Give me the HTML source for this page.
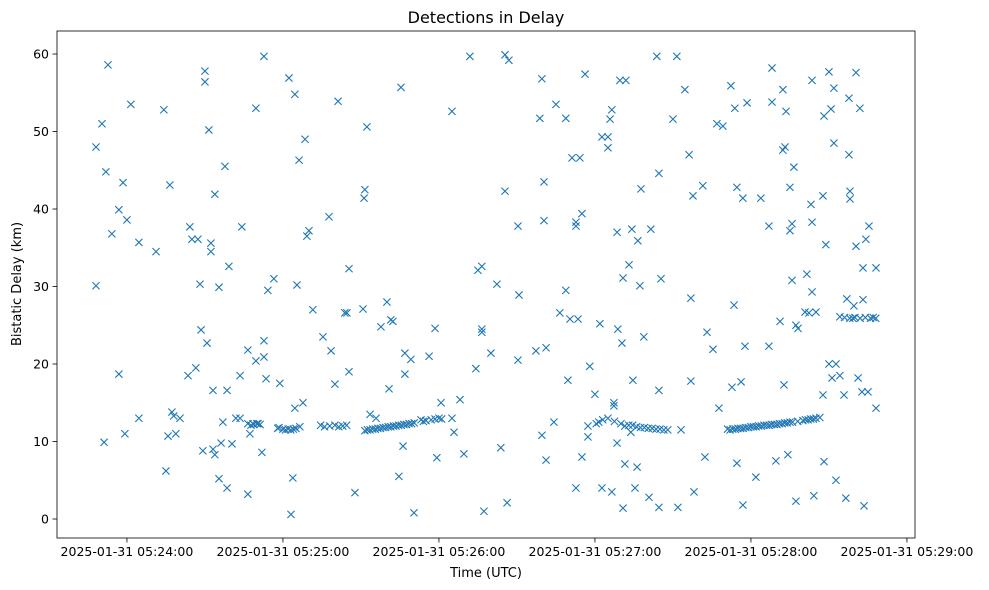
<!DOCTYPE html>
<html><head><meta charset="utf-8"><style>
html,body{margin:0;padding:0;background:#fff;}
svg{display:block;font-family:"DejaVu Sans","Liberation Sans",sans-serif;}
</style></head><body>
<svg id="chart" width="989" height="590" viewBox="0 0 989 590">
<rect width="989" height="590" fill="#fff"/>
<text x="486" y="23" text-anchor="middle" font-size="16" fill="#000">Detections in Delay</text>
<text x="486" y="577" text-anchor="middle" font-size="13" fill="#000">Time (UTC)</text>
<text transform="translate(21,284) rotate(-90)" text-anchor="middle" font-size="13" fill="#000">Bistatic Delay (km)</text>
<g id="marks"></g>
<g id="axes"></g>
</svg>
<script>
// seconds after 05:24:00
const times = [-11.9,-11.9,-9.6,-8.8,-8.1,-7.3,-5.8,-3.1,-3.1,-1.5,-0.8,0,1.5,4.6,4.6,11.2,14.2,15,15.8,16.5,17.3,18,18.8,20.4,23.5,24.2,25,26.5,27.3,28.1,28.5,29.2,30,30,30.8,31.5,32.3,32.3,33.1,33.1,33.8,33.8,35.4,35.4,36.2,36.9,37.7,38.5,38.5,39.2,40.4,41.9,43.5,43.5,44.2,46.5,46.5,47.3,48.5,49.6,49.6,50.4,51.9,52.7,52.7,52.7,53.5,54.2,56.5,58,58.8,62.3,63.1,63.8,64.6,64.6,65.4,66.2,67.7,68.5,69.2,70,71.5,75.4,77.7,78.5,80,81.2,83.8,84.6,85.4,85.4,87.7,90.8,91.2,91.5,92.3,93.5,95.8,97.7,100,100.8,101.5,102.3,104.6,105.4,106.2,106.9,106.9,109.2,110.4,113.1,116.2,118.5,119.2,120.8,125,125,125.8,128.1,129.6,131.9,134.2,135,136.5,136.5,136.5,137.3,140,142.3,143.8,145.4,146.2,146.9,145.4,150.4,150.8,150.4,157.3,158.8,159.6,159.6,160.4,160.4,161.2,161.2,164.2,165,166.5,168.8,168.8,169.6,170.4,171.2,172.7,173.5,174.2,172.7,172.7,175,175,176.2,177.3,177.3,178,180,181.9,182.7,182.7,185,185,185.8,186.5,186.5,187.3,187.3,188.5,188.5,188.8,189.6,190.4,190.8,190.8,191.5,191.9,193.1,193.8,194.2,194.6,195.4,196.2,196.5,197.3,197.7,198.8,200.8,201.5,203.8,204.6,204.6,204.6,205.4,210,211.5,211.9,213.1,214.6,216.2,216.9,216.9,217.7,218.1,221.5,222.3,223.1,225.4,227.7,226.9,229.2,232.3,232.7,233.5,233.8,234.6,234.6,236.2,236.9,236.9,237.7,238.5,241.9,243.8,246.9,246.9,248.1,248.1,249.6,251.2,252.3,252.3,252.7,253.1,253.5,254.2,255,255,255.8,255.8,256.5,257.3,258.1,257.3,260.8,261.5,262.3,263.1,263.5,263.5,263.5,264.2,265,267.7,267.7,268.1,268.1,268.8,270,270,270.8,271.2,271.9,271.9,272.7,272.7,274.2,274.2,275.8,276.5,276.9,277.7,277.7,278.1,278.1,279.2,279.6,280.4,280.4,281.2,281.9,282.7,283.1,283.1,283.5,284.2,285,285.4,288.1,288.1,
46.5,47.7,48.8,50,51.2,58.5,60,61,62,63,64,65,66.5,74.5,76,78,80,81.5,83,84.5,91.5,92.5,93.5,94.5,95.5,96.5,97.5,98.5,99.5,100.5,101.5,102.5,103.5,104.5,105.5,106.5,107.5,108.5,109.5,110.5,114,115,117,118.5,120,121,180.5,181.5,183,185,187.5,190,191.5,193,194.5,196,197.5,199,200.5,202,203.5,205,206.5,208,231,232,233,234,235,236,237,238,239,240,241,242,243,244,245,246,247,248,249,250,251,252,253,254,255,256,258,260,261,262,263,264,265,266.5,276,278,280,282,284,286,287,288];
const delays = [48.0,30.1,51.0,9.9,44.8,58.6,36.8,39.9,18.7,43.4,11.0,38.6,53.5,35.7,13.0,34.5,52.8,6.2,10.7,43.1,13.8,13.3,11.0,13.0,18.5,37.7,36.1,19.5,36.1,30.3,24.4,8.8,57.8,56.4,22.7,50.2,35.6,34.5,16.6,9.0,8.3,41.9,5.2,29.9,9.8,12.5,45.5,4.0,16.6,32.6,9.7,13.0,13.0,18.5,37.7,3.2,21.8,11.0,12.3,53.0,20.4,12.3,8.6,23.0,20.9,59.7,18.1,29.5,31.0,11.7,17.5,56.9,0.6,5.3,54.8,14.3,30.2,46.3,15.0,49.0,36.5,37.2,27.0,23.5,39.0,21.7,17.4,53.9,26.6,26.6,32.3,19.0,3.4,27.1,41.4,42.5,50.6,13.5,13.0,24.8,28.0,16.8,25.7,25.5,5.5,55.7,9.4,21.4,18.7,20.6,0.8,12.8,21.0,24.6,7.9,15.0,52.6,13.0,11.2,15.4,8.4,59.7,19.4,32.1,32.6,24.5,24.1,1.0,21.4,30.3,9.2,59.9,2.1,59.2,42.3,37.8,28.9,20.5,21.7,51.7,56.8,10.8,43.5,38.5,22.1,7.6,12.5,53.5,26.6,51.7,29.5,17.9,25.8,46.6,4.0,25.8,46.6,38.3,37.8,39.4,8.0,57.4,12.0,10.6,19.7,16.1,25.2,49.3,4.0,47.9,49.3,51.6,52.8,3.5,15.0,14.6,37.0,9.8,24.5,56.6,22.7,31.1,1.4,7.1,56.6,32.8,11.2,37.4,17.9,4.0,6.7,35.9,30.1,42.6,23.5,2.8,37.4,59.7,1.5,16.6,44.6,31.0,51.6,59.7,1.5,11.5,55.4,47.0,28.5,17.8,41.7,3.5,43.0,8.0,24.1,21.9,14.3,51.0,50.7,55.9,17.0,27.6,53.0,42.8,7.2,17.7,1.8,41.4,22.3,53.7,5.4,41.4,22.3,37.8,58.2,53.8,7.5,25.5,55.4,47.6,17.3,48.0,52.6,8.3,42.8,37.2,38.1,30.8,45.4,25.0,24.6,2.3,26.7,31.6,26.6,40.6,38.3,56.6,29.3,3.0,26.7,41.7,16.0,52.0,7.4,35.4,57.7,20.0,52.9,18.2,55.6,48.5,5.0,20.0,18.5,26.1,16.0,2.7,28.4,54.3,47.0,42.3,41.3,25.9,27.5,57.6,35.2,18.2,53.0,16.4,32.4,28.3,1.7,36.1,16.4,37.8,32.4,14.3,
12.3,12.1,12.2,12.3,12.2,11.8,11.6,11.5,11.6,11.5,11.6,11.7,11.9,12.1,11.9,12.0,12.1,11.9,12.0,12.1,11.4,11.5,11.5,11.6,11.6,11.7,11.7,11.8,11.8,11.9,11.9,12.0,12.0,12.1,12.1,12.2,12.2,12.3,12.3,12.4,12.6,12.7,12.8,12.9,13.0,12.9,12.3,12.5,12.8,13.0,12.6,12.3,12.0,12.1,12.1,11.9,11.8,11.8,11.7,11.7,11.6,11.6,11.5,11.5,11.6,11.5,11.6,11.6,11.7,11.7,11.7,11.8,11.8,11.9,11.9,11.9,12.0,12.0,12.1,12.1,12.1,12.2,12.2,12.2,12.3,12.3,12.4,12.4,12.5,12.5,12.6,12.7,12.8,12.8,12.9,12.9,13.0,13.1,26.0,25.9,26.0,25.9,26.0,25.9,26.0,25.9];
const xTicks = [0,60,120,180,240,300];
const xTickLabels = ["2025-01-31 05:24:00","2025-01-31 05:25:00","2025-01-31 05:26:00","2025-01-31 05:27:00","2025-01-31 05:28:00","2025-01-31 05:29:00"];
const yTicks = [0,10,20,30,40,50,60];

const L=57,R=915,T=31,B=538;
const xMin=-26.9,xMax=303.1,yMin=-2.45,yMax=62.97;
function sx(t){return L+(t-xMin)/(xMax-xMin)*(R-L);}
function sy(d){return B-(d-yMin)/(yMax-yMin)*(B-T);}
const NS="http://www.w3.org/2000/svg";
const marks=document.getElementById('marks');
const axes=document.getElementById('axes');
function mk(tag,attrs,parent){const e=document.createElementNS(NS,tag);for(const k in attrs)e.setAttribute(k,attrs[k]);parent.appendChild(e);return e;}
const n=Math.min(times.length,delays.length);
for(let i=0;i<n;i++){
  const x=sx(times[i]),y=sy(delays[i]),h=3.6;
  const p=mk('path',{d:`M${x-h},${y-h}L${x+h},${y+h}M${x-h},${y+h}L${x+h},${y-h}`,stroke:'#1f77b4','stroke-width':1.1,fill:'none'},marks);
  
  
}
const frame=mk('rect',{x:L,y:T,width:R-L,height:B-T,fill:'none',stroke:'#000','stroke-width':0.8},axes);


xTicks.forEach((t,i)=>{
  const x=sx(t);
  mk('line',{x1:x,x2:x,y1:B,y2:B+4.5,stroke:'#000','stroke-width':0.8},axes);
  const tx=mk('text',{x:x,y:B+18,'text-anchor':'middle','font-size':12.5,fill:'#000'},axes);
  tx.textContent=xTickLabels[i];
  
  
});
yTicks.forEach(v=>{
  const y=sy(v);
  mk('line',{x1:L-4.5,x2:L,y1:y,y2:y,stroke:'#000','stroke-width':0.8},axes);
  const tx=mk('text',{x:L-8,y:y+4.5,'text-anchor':'end','font-size':12.5,fill:'#000'},axes);
  tx.textContent=String(v);
  
  
});
</script>
</body></html>
